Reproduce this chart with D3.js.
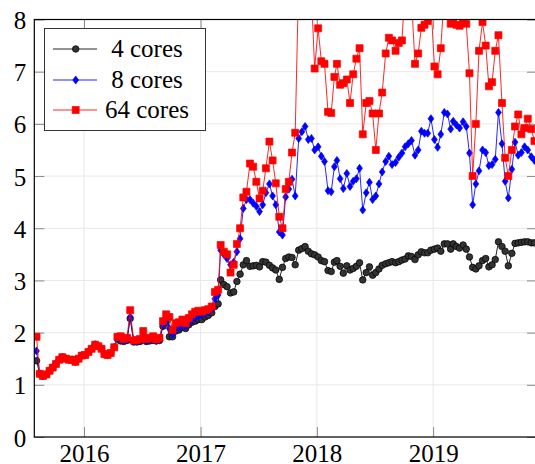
<!DOCTYPE html>
<html><head><meta charset="utf-8">
<script src="https://cdn.jsdelivr.net/npm/d3@7"></script>
<style>body{margin:0;background:#fff}svg{display:block}</style>
</head><body>
<svg id="chart" width="535" height="464"></svg>
<script>
const dates = [
"2015-08-05","2015-08-15","2015-08-25","2015-09-05","2015-09-15","2015-09-25","2015-10-05","2015-10-15","2015-10-25","2015-11-05","2015-11-15","2015-11-25","2015-12-05","2015-12-15","2015-12-25",
"2016-01-05","2016-01-15","2016-01-25","2016-02-05","2016-02-15","2016-02-25","2016-03-05","2016-03-15","2016-03-25","2016-04-05","2016-04-15","2016-04-25","2016-05-05","2016-05-15","2016-05-25","2016-06-05","2016-06-15","2016-06-25","2016-07-05","2016-07-15","2016-07-25","2016-08-05","2016-08-15","2016-08-25","2016-09-05","2016-09-15","2016-09-25","2016-10-05","2016-10-15","2016-10-25","2016-11-05","2016-11-15","2016-11-25","2016-12-05","2016-12-15","2016-12-25",
"2017-01-05","2017-01-15","2017-01-25","2017-02-05","2017-02-15","2017-02-25","2017-03-05","2017-03-15","2017-03-25","2017-04-05","2017-04-15","2017-04-25","2017-05-05","2017-05-15","2017-05-25","2017-06-05","2017-06-15","2017-06-25","2017-07-05","2017-07-15","2017-07-25","2017-08-05","2017-08-15","2017-08-25","2017-09-05","2017-09-15","2017-09-25","2017-10-05","2017-10-15","2017-10-25","2017-11-05","2017-11-15","2017-11-25","2017-12-05","2017-12-15","2017-12-25",
"2018-01-05","2018-01-15","2018-01-25","2018-02-05","2018-02-15","2018-02-25","2018-03-05","2018-03-15","2018-03-25","2018-04-05","2018-04-15","2018-04-25","2018-05-05","2018-05-15","2018-05-25","2018-06-05","2018-06-15","2018-06-25","2018-07-05","2018-07-15","2018-07-25","2018-08-05","2018-08-15","2018-08-25","2018-09-05","2018-09-15","2018-09-25","2018-10-05","2018-10-15","2018-10-25","2018-11-05","2018-11-15","2018-11-25","2018-12-05","2018-12-15","2018-12-25",
"2019-01-05","2019-01-15","2019-01-25","2019-02-05","2019-02-15","2019-02-25","2019-03-05","2019-03-15","2019-03-25","2019-04-05","2019-04-15","2019-04-25","2019-05-05","2019-05-15","2019-05-25","2019-06-05","2019-06-15","2019-06-25","2019-07-05","2019-07-15","2019-07-25","2019-08-05","2019-08-15","2019-08-25","2019-09-05","2019-09-15","2019-09-25","2019-10-05","2019-10-15","2019-10-25","2019-11-05","2019-11-15"
];
const cores4 = [
1.46,1.21,1.17,1.20,1.27,1.33,1.40,1.48,1.53,1.50,1.48,1.48,1.44,1.50,1.56,
1.57,1.63,1.69,1.77,1.74,1.69,1.59,1.57,1.61,1.72,1.88,1.84,1.83,1.85,2.27,1.82,1.82,1.83,1.90,1.83,1.84,1.85,1.84,1.85,2.12,2.20,1.92,1.92,2.03,2.05,2.10,2.08,2.15,2.20,2.22,2.25,
2.25,2.30,2.33,2.38,2.50,2.55,3.01,2.92,2.88,2.76,2.78,2.98,3.12,3.30,3.38,3.27,3.28,3.29,3.26,3.36,3.35,3.29,3.24,3.20,3.02,3.25,3.42,3.45,3.44,3.30,3.58,3.61,3.65,3.56,3.51,3.49,
3.45,3.38,3.36,3.19,3.17,3.35,3.38,3.27,3.14,3.28,3.20,3.23,3.27,3.34,3.01,3.15,3.26,3.10,3.15,3.22,3.29,3.32,3.34,3.36,3.34,3.36,3.39,3.41,3.47,3.46,3.40,3.49,3.55,3.53,3.53,3.58,
3.60,3.62,3.56,3.70,3.70,3.60,3.70,3.65,3.62,3.68,3.60,3.45,3.25,3.22,3.28,3.38,3.42,3.26,3.30,3.40,3.74,3.65,3.56,3.28,3.52,3.71,3.72,3.73,3.74,3.74,3.72,3.72
];
const cores8 = [
1.65,1.21,1.17,1.20,1.27,1.33,1.40,1.48,1.53,1.50,1.48,1.48,1.44,1.50,1.56,
1.57,1.63,1.69,1.77,1.74,1.69,1.59,1.57,1.61,1.72,1.90,1.88,1.86,1.86,2.30,1.84,1.84,1.85,1.95,1.85,1.86,1.88,1.85,1.87,2.15,2.25,2.08,1.97,2.08,2.10,2.15,2.12,2.20,2.25,2.30,2.33,
2.35,2.38,2.40,2.45,2.65,2.72,3.58,3.50,3.42,3.30,3.35,3.55,3.80,4.38,4.55,4.55,4.48,4.42,4.32,4.45,4.68,4.85,4.62,4.45,3.93,3.87,4.60,4.75,4.94,4.62,5.72,5.85,5.95,5.70,5.72,5.50,
5.56,5.38,5.28,4.72,4.70,5.18,5.30,4.95,4.76,5.05,4.80,4.90,4.95,5.15,4.35,4.68,4.88,4.55,4.62,4.85,5.08,5.28,5.38,5.22,5.26,5.36,5.44,5.56,5.62,5.68,5.40,5.50,5.86,5.82,5.82,6.10,
5.70,5.55,5.80,6.22,6.19,5.90,6.05,5.98,5.92,6.04,5.95,5.44,4.45,4.85,5.10,5.50,5.45,5.20,5.22,5.32,6.22,5.62,4.90,4.58,5.13,5.65,5.40,5.45,5.56,5.50,5.37,5.30
];
const cores64 = [
1.92,1.21,1.17,1.20,1.27,1.33,1.40,1.48,1.53,1.50,1.48,1.48,1.44,1.50,1.56,
1.57,1.63,1.69,1.77,1.74,1.69,1.59,1.57,1.61,1.72,1.92,1.93,1.88,1.90,2.43,1.85,1.86,1.88,2.03,1.88,1.90,1.93,1.87,1.90,2.22,2.35,2.30,2.05,2.18,2.20,2.25,2.18,2.28,2.35,2.40,2.42,
2.40,2.43,2.45,2.50,2.78,2.82,3.68,3.55,3.50,3.15,3.30,3.70,4.00,4.59,4.70,5.24,5.18,4.89,4.57,4.72,5.15,5.66,5.30,4.86,4.22,4.00,4.75,4.89,5.45,5.83,8.8,9.2,9.0,8.7,8.5,7.06,
7.83,7.20,7.15,6.23,6.21,6.90,7.15,6.75,6.78,6.85,6.40,6.95,7.25,7.45,5.80,6.40,6.44,6.20,5.50,6.20,6.60,7.35,7.65,7.60,7.40,7.55,7.60,8.6,9.0,8.4,7.15,7.35,7.84,7.90,7.97,8.3,
7.10,6.95,7.45,8.5,8.3,7.92,7.95,7.90,7.88,7.95,7.92,6.97,5.00,6.00,7.40,7.95,7.50,6.72,6.80,7.40,7.70,6.40,5.35,5.00,5.50,5.95,6.18,5.80,5.92,6.10,5.90,5.67
];
const seriesNames = ["4 cores","8 cores","64 cores"];
const yTicks = [0,1,2,3,4,5,6,7,8];
const xTickDates = ["2016-01-01","2017-01-01","2018-01-01","2019-01-01"];
const xDomain = ["2015-07-29","2019-11-23"];
const yDomain = [0,8];

const parse = d3.utcParse("%Y-%m-%d");
const FONT = '"Liberation Serif"';
const svg = d3.select("#chart");
const P = {left:34.3, right:537, top:19.5, bottom:437};

const x = d3.scaleUtc().domain(xDomain.map(parse)).range([P.left, P.right]);
const y = d3.scaleLinear().domain(yDomain).range([P.bottom, P.top]);

svg.append("rect").attr("width",535).attr("height",464).attr("fill","#fff");

// grid
const grid = svg.append("g").attr("stroke","#e8e8e8").attr("stroke-width",1);
grid.selectAll("line.h").data(yTicks).join("line").attr("class","h")
  .attr("x1",P.left).attr("x2",P.right).attr("y1",d=>y(d)).attr("y2",d=>y(d));
grid.selectAll("line.v").data(xTickDates).join("line").attr("class","v")
  .attr("x1",d=>x(parse(d))).attr("x2",d=>x(parse(d))).attr("y1",P.top).attr("y2",P.bottom);

// axes (ticks inward)
const tickDates = xTickDates.map(parse);
function styleAxis(g, showText){
  g.attr("font-family",null).attr("font-size",null);
  g.select(".domain").remove();
  g.selectAll(".tick line").attr("stroke","#8a8a8a").attr("stroke-width",1);
  g.selectAll(".tick text").style("font-family",FONT).style("font-size","25px").attr("fill","#000");
  if(!showText) g.selectAll(".tick text").remove();
}
svg.append("g").attr("transform",`translate(0,${P.bottom})`)
  .call(d3.axisBottom(x).tickValues(tickDates).tickFormat(d3.utcFormat("%Y")).tickSize(-10).tickPadding(7))
  .call(g=>styleAxis(g,true));
svg.append("g").attr("transform",`translate(0,${P.top})`)
  .call(d3.axisTop(x).tickValues(tickDates).tickSize(-10))
  .call(g=>styleAxis(g,false));
const yl = svg.append("g").attr("transform",`translate(${P.left},0)`)
  .call(d3.axisLeft(y).tickValues(yTicks).tickFormat(d3.format("d")).tickSize(-10).tickPadding(8))
  .call(g=>styleAxis(g,true));
yl.selectAll(".tick text").attr("dy","0.36em");
svg.append("g").attr("transform",`translate(${P.right},0)`)
  .call(d3.axisRight(y).tickValues(yTicks).tickSize(-10))
  .call(g=>styleAxis(g,false));

// clip
svg.append("clipPath").attr("id","clip").append("rect")
  .attr("x",P.left).attr("y",P.top).attr("width",P.right-P.left).attr("height",P.bottom-P.top);

const series = [
  {name:seriesNames[0], values:cores4, color:"#000", fill:"#333", mark:"circle"},
  {name:seriesNames[1], values:cores8, color:"#0000ff", fill:"#0000ff", mark:"diamond"},
  {name:seriesNames[2], values:cores64, color:"#ff0000", fill:"#ff0000", mark:"square"}
];
const markPath = {
  circle: "M-3.3,0A3.3,3.3 0 1,0 3.3,0A3.3,3.3 0 1,0 -3.3,0Z",
  diamond: "M0,-4L2.9,0L0,4L-2.9,0Z",
  square: "M-3.5,-3.5H3.5V3.5H-3.5Z"
};
const line = d3.line().x((d,i)=>x(parse(dates[i]))).y(d=>y(d));

const plotG = svg.append("g").attr("clip-path","url(#clip)");
series.forEach(s=>{
  const g = plotG.append("g");
  g.append("path").datum(s.values).attr("d",line)
    .attr("fill","none").attr("stroke",s.color).attr("stroke-width",1).attr("stroke-opacity",0.85);
  g.selectAll("path.m").data(s.values).join("path").attr("class","m")
    .attr("transform",(d,i)=>`translate(${x(parse(dates[i]))},${y(d)})`)
    .attr("d",markPath[s.mark])
    .attr("fill",s.fill).attr("stroke",s.color).attr("stroke-width",0.7);
});

// frame
svg.append("rect").attr("x",P.left).attr("y",P.top).attr("width",P.right-P.left).attr("height",P.bottom-P.top)
  .attr("fill","none").attr("stroke","#000").attr("stroke-width",1.2);

// legend
const lg = svg.append("g");
lg.append("rect").attr("x",44.5).attr("y",28.5).attr("width",161).attr("height",102)
  .attr("fill","#fff").attr("stroke","#333").attr("stroke-width",1);
const rowY = [49,80,110];
series.forEach((s,i)=>{
  lg.append("line").attr("x1",53).attr("x2",97).attr("y1",rowY[i]).attr("y2",rowY[i])
    .attr("stroke",s.color).attr("stroke-width",1).attr("stroke-opacity",0.85);
  lg.append("path").attr("transform",`translate(75.7,${rowY[i]})`).attr("d",markPath[s.mark])
    .attr("fill",s.fill).attr("stroke",s.color).attr("stroke-width",0.7);
  lg.append("text").attr("x",147).attr("y",rowY[i]+8).attr("text-anchor","middle")
    .style("font-family",FONT).style("font-size","25px").attr("fill","#000").text(s.name);
});
</script>
</body></html>
